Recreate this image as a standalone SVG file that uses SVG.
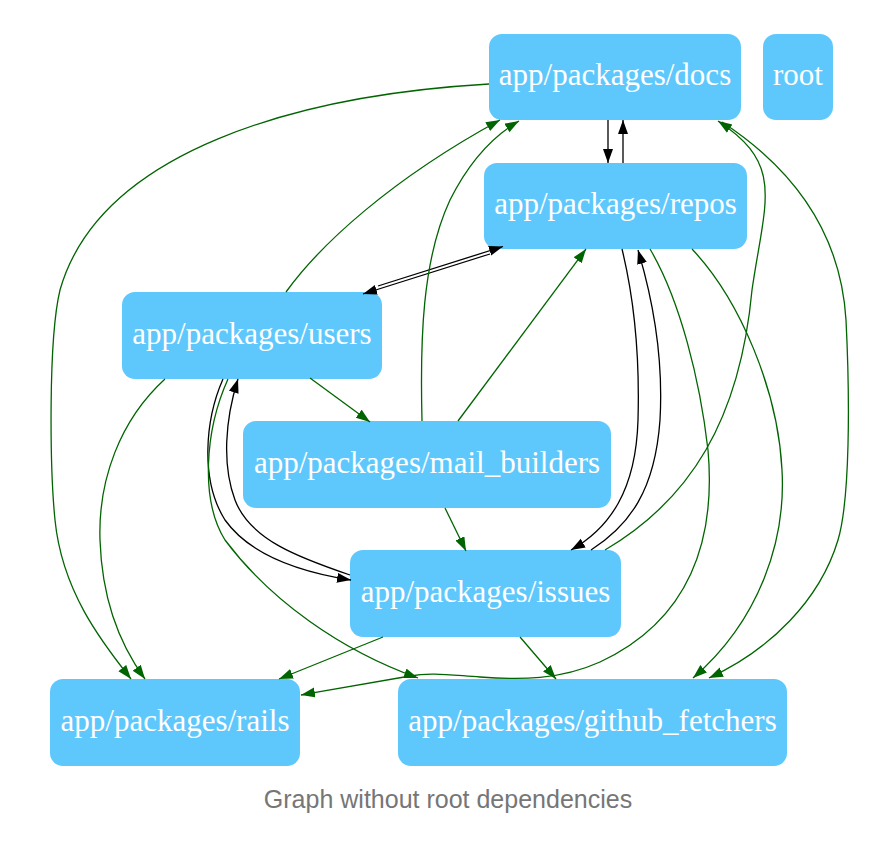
<svg xmlns="http://www.w3.org/2000/svg" width="882" height="864" viewBox="0 0 882 864">
<defs>
<marker id="ag" markerUnits="userSpaceOnUse" markerWidth="15" markerHeight="11" refX="14" refY="5" orient="auto"><path d="M0,0 L14,5 L0,10 z" fill="#006400"/></marker>
<marker id="ak" markerUnits="userSpaceOnUse" markerWidth="15" markerHeight="11" refX="14" refY="5" orient="auto"><path d="M0,0 L14,5 L0,10 z" fill="#000"/></marker>
<style>
.n rect{fill:#5ec8fd}
.n text{fill:#fff;font-family:"Liberation Serif","Times New Roman",serif;font-size:31px;text-anchor:middle}
.g{fill:none;stroke:#006400;stroke-width:1.3;marker-end:url(#ag)}
.k{fill:none;stroke:#000;stroke-width:1.3;marker-end:url(#ak)}
.cap{fill:#767676;font-family:"Liberation Sans",Arial,sans-serif;font-size:25px;text-anchor:middle}
</style>
</defs>
<rect width="882" height="864" fill="#fff"/>
<g id="nodes">
<g id="docs" class="n"><rect x="489" y="34" width="252" height="86" rx="13"/><text x="615" y="85">app/packages/docs</text></g>
<g id="root" class="n"><rect x="763" y="34" width="70" height="86" rx="13"/><text x="798" y="85">root</text></g>
<g id="repos" class="n"><rect x="484" y="163" width="263" height="86" rx="13"/><text x="615.5" y="214">app/packages/repos</text></g>
<g id="users" class="n"><rect x="122" y="292" width="260" height="87" rx="13"/><text x="252" y="343.5">app/packages/users</text></g>
<g id="mail_builders" class="n"><rect x="243" y="421" width="368" height="87" rx="13"/><text x="427" y="472.5">app/packages/mail_builders</text></g>
<g id="issues" class="n"><rect x="350" y="550" width="271" height="87" rx="13"/><text x="485.5" y="601.5">app/packages/issues</text></g>
<g id="rails" class="n"><rect x="50" y="679" width="250" height="87" rx="13"/><text x="175" y="730.5">app/packages/rails</text></g>
<g id="github_fetchers" class="n"><rect x="398" y="679" width="389" height="87" rx="13"/><text x="592.5" y="730.5">app/packages/github_fetchers</text></g>
</g>
<g id="edges">
<path class="k" d="M608,120 L608,163"/>
<path class="k" d="M623,163 L623,120"/>
<path class="k" d="M378,286 L503,246.5"/>
<path class="k" d="M490,254 L363,294"/>
<path class="k" d="M622,249 C632,290 640,350 638,420 C636,490 610,528 571,550"/>
<path class="k" d="M591,550 C630,525 655,490 660,420 C664,350 650,290 638,250"/>
<path class="k" d="M223,379 C205,420 200,480 225,520 C250,555 300,572 351,580"/>
<path class="k" d="M350,575 C300,558 250,540 235,500 C222,465 225,420 238,379"/>
<path class="g" d="M489,84 C300,95 100,150 60,290 C48,340 50,470 55,520 C62,590 100,640 131,679"/>
<path class="g" d="M286,292 C320,245 390,180 500,120"/>
<path class="g" d="M422,421 C420,340 422,260 450,200 C470,160 495,135 519,121"/>
<path class="g" d="M605,550 C690,500 740,420 752,290 C765,200 785,165 718,121"/>
<path class="g" d="M722,122 C780,160 840,220 846,320 C850,400 850,500 838,540 C820,600 770,650 709,678"/>
<path class="g" d="M692,249 C740,300 778,390 782,470 C786,540 760,620 693,678"/>
<path class="g" d="M650,249 C680,300 700,380 708,450 C716,540 690,620 600,662 C560,680 520,680 480,677 C450,675 430,672 410,676 C380,681 340,688 301,695"/>
<path class="g" d="M228,379 C205,430 200,500 225,540 C270,600 340,650 418,678"/>
<path class="g" d="M165,379 C120,420 98,480 100,540 C102,600 120,645 145,679"/>
<path class="g" d="M383,637 L279,679"/>
<path class="g" d="M520,637 L556,679"/>
<path class="g" d="M310,378 L370,422"/>
<path class="g" d="M458,421 L586,249"/>
<path class="g" d="M445,508 L466,551"/>
</g>
<text class="cap" x="448" y="808">Graph without root dependencies</text>
</svg>
